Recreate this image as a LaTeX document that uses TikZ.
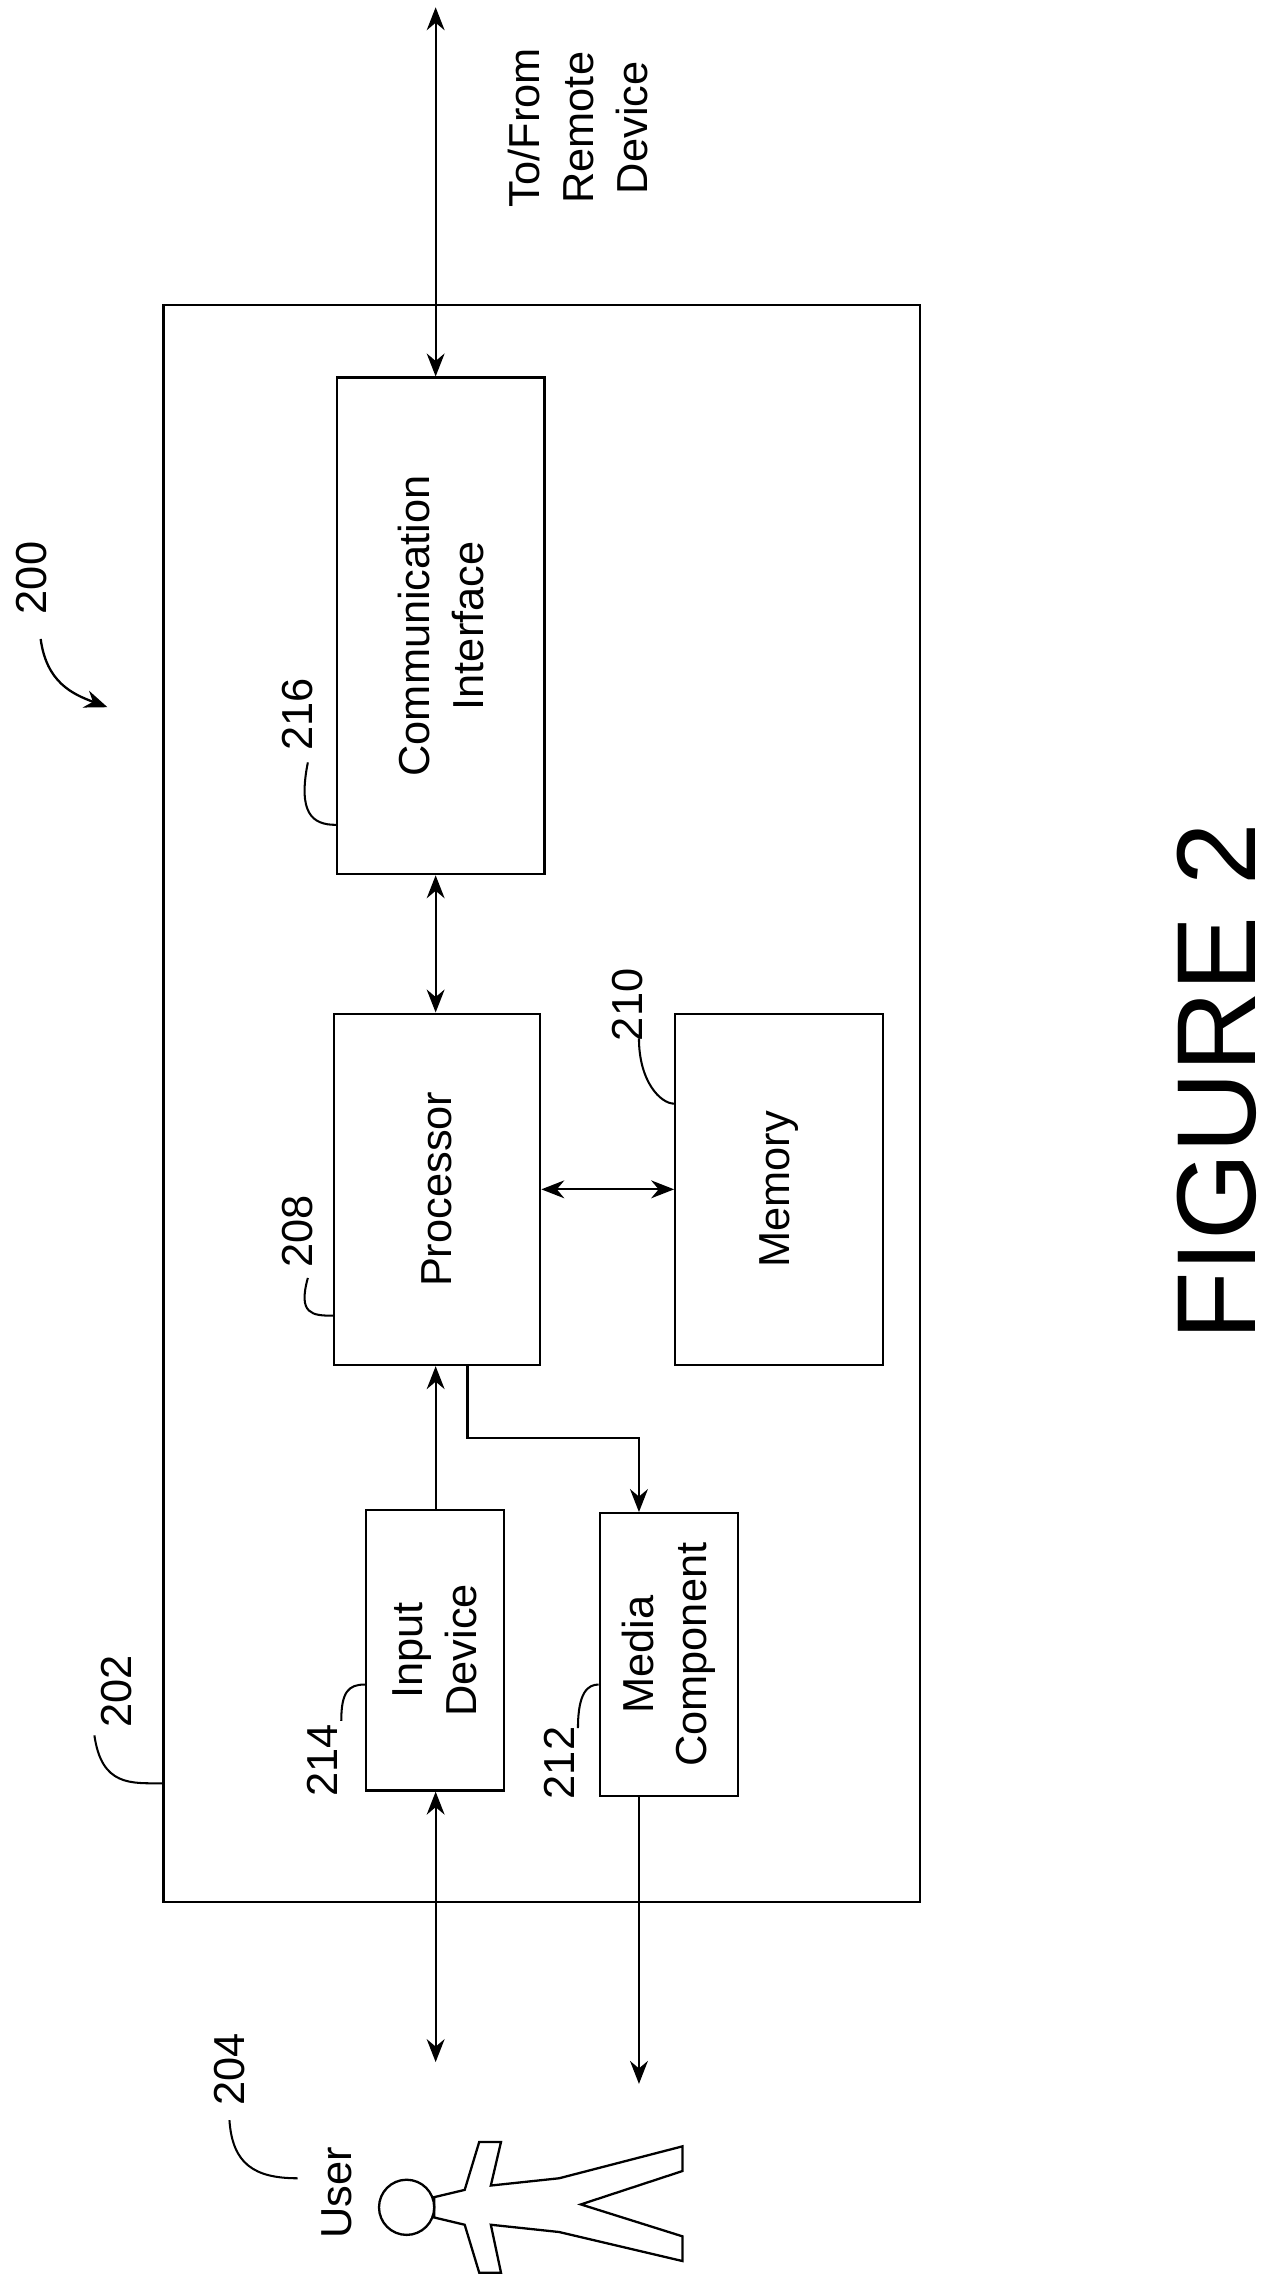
\documentclass[tikz,border=0pt]{standalone}
\usepackage{fontspec}
\setmainfont{Liberation Sans}
\usetikzlibrary{arrows.meta}
\tikzset{
  box/.style={draw, line width=0.9pt, rectangle, inner sep=0pt},
  lbl/.style={rotate=90, align=center, font=\fontsize{17}{21}\selectfont},
  arr/.style={line width=0.9pt, -{Stealth[length=9pt,width=7pt]}},
  darr/.style={line width=0.9pt, {Stealth[length=9pt,width=7pt]}-{Stealth[length=9pt,width=7pt]}},
  lead/.style={line width=0.8pt}
}
\begin{document}
\begin{tikzpicture}[x=0.02cm,y=-0.02cm]
  \useasboundingbox (0,0) rectangle (885,1568);

  % boxes
  \node[box, minimum width=10.42cm, minimum height=22cm] (dev) at (373,760) {};
  \node[box, minimum width=2.86cm, minimum height=6.84cm] (comm) at (303.5,431) {};
  \node[lbl] at (comm) {Communication\\Interface};
  \node[box, minimum width=2.84cm, minimum height=4.84cm] (proc) at (301,819) {};
  \node[lbl] at (proc) {Processor};
  \node[box, minimum width=2.86cm, minimum height=4.84cm] (mem) at (536.5,819) {};
  \node[lbl] at (mem) {Memory};
  \node[box, minimum width=1.9cm, minimum height=3.86cm] (inp) at (299.5,1136.5) {};
  \node[lbl] at (inp) {Input\\Device};
  \node[box, minimum width=1.9cm, minimum height=3.9cm] (media) at (460.5,1139.5) {};
  \node[lbl] at (media) {Media\\Component};

  % connectors
  \coordinate (remote) at (300,5);
  \coordinate (userA) at (300,1420);
  \coordinate (userB) at (440,1435);
  \coordinate (bend1) at (322,990);
  \coordinate (bend2) at (440,990);
  \draw[darr] (remote) -- (remote |- comm.north);
  \draw[darr] (comm.south -| 300,0) -- (proc.north -| 300,0);
  \draw[darr] (proc.east) -- (mem.west);
  \draw[arr] (inp.north -| 300,0) -- (proc.south -| 300,0);
  \draw[arr] (proc.south -| bend1) -- (bend1) -- (bend2) -- (media.north -| bend2);
  \draw[darr] (inp.south -| userA) -- (userA);
  \draw[arr] (media.south -| userB) -- (userB);

  % texts
  \node[lbl] (remtxt) at (398,88) {To/From\\Remote\\Device};
  \node[rotate=90, font=\fontsize{44}{46}\selectfont] (fig) at (838,745) {FIGURE 2};

  % reference numerals
  \node[lbl] (n200) at (22,398) {200};
  \node[lbl] (n216) at (205,492) {216};
  \node[lbl] (n208) at (205,848) {208};
  \node[lbl] (n210) at (432,692) {210};
  \node[lbl] (n214) at (222,1212) {214};
  \node[lbl] (n212) at (385,1214) {212};
  \node[lbl] (n202) at (80,1165) {202};
  \node[lbl] (n204) at (158,1425) {204};
  \node[lbl] (usr) at (232,1510) {User};
  \coordinate (a200) at (74,487);
  \draw[arr] (28,440) .. controls (32,470) and (50,478) .. (a200);
  \draw[lead] (212,525) .. controls (205,560) and (215,568) .. (comm.west |- 0,568);
  \draw[lead] (212,880) .. controls (205,905) and (215,906) .. (proc.west |- 0,906);
  \draw[lead] (440,715) .. controls (440,745) and (455,760) .. (mem.west |- 0,760);
  \draw[lead] (235,1185) .. controls (235,1165) and (240,1160) .. (inp.west |- 0,1160);
  \draw[lead] (398,1190) .. controls (398,1165) and (405,1160) .. (media.west |- 0,1160);
  \draw[lead] (65,1195) .. controls (70,1230) and (90,1228) .. (dev.west |- 0,1228);
  \draw[lead] (158,1460) .. controls (160,1490) and (175,1500) .. (205,1500);

  % user figure
  \draw[line width=0.9pt] (280,1520) circle (19);
  \draw[line width=0.9pt] (299,1513) -- (320,1508) -- (330,1475) -- (345,1475) -- (338,1505)
    -- (385,1500) -- (470,1478) -- (470,1495) -- (400,1518) -- (470,1540) -- (470,1557)
    -- (385,1537) -- (338,1532) -- (345,1565) -- (330,1565) -- (320,1532) -- (299,1527) -- cycle;
\end{tikzpicture}
\end{document}
